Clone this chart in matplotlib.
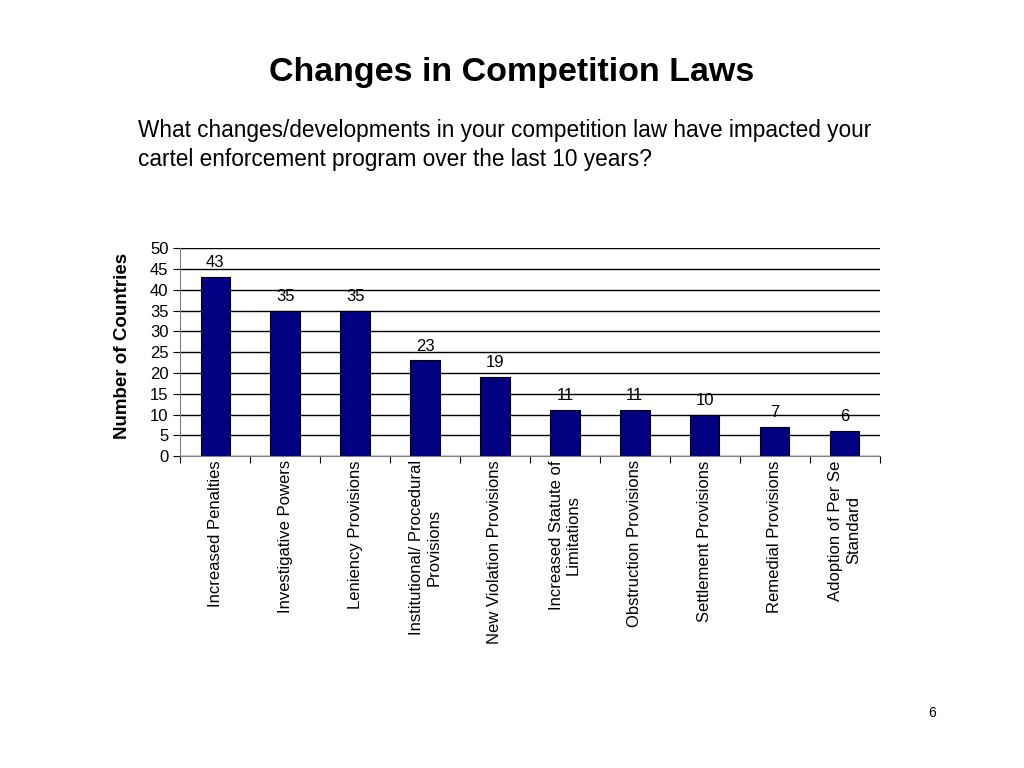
import matplotlib.pyplot as plt
import numpy as np

plt.rcParams['font.family'] = ['Liberation Sans', 'DejaVu Sans']

categories = ['Increased Penalties', 'Investigative Powers', 'Leniency Provisions',
              'Institutional/ Procedural\nProvisions', 'New Violation Provisions',
              'Increased Statute of\nLimitations', 'Obstruction Provisions',
              'Settlement Provisions', 'Remedial Provisions', 'Adoption of Per Se\nStandard']
counts = [43, 35, 35, 23, 19, 11, 11, 10, 7, 6]
y_ticks = list(range(0, 51, 5))

fig = plt.figure(figsize=(10.24, 7.68), dpi=100)
ax = fig.add_axes([0.176, 0.406, 0.683, 0.271])

x = np.arange(len(categories))
ax.set_axisbelow(True)
ax.yaxis.grid(True, color='black', linewidth=1)
bars = ax.bar(x, counts, width=0.42, color='#000080', edgecolor='black', linewidth=0.8)

for xi, v in zip(x, counts):
    ax.annotate(str(v), (xi, v), xytext=(0, 5), textcoords='offset points',
                ha='center', va='bottom', fontsize=12)

ax.set_xlim(-0.5, len(categories) - 0.5)
ax.set_ylim(0, 50)
ax.set_yticks(y_ticks)
ax.tick_params(axis='y', labelsize=12, length=5, direction='out')

# category labels between boundary ticks
ax.set_xticks(np.arange(len(categories) + 1) - 0.5)
ax.set_xticklabels([])
ax.tick_params(axis='x', length=5, direction='out')
ax.set_xticks(x, minor=True)
ax.set_xticklabels(categories, minor=True, rotation=90, fontsize=12, ha='center', va='top')
ax.tick_params(axis='x', which='minor', length=0, pad=3)

ax.spines['top'].set_visible(False)
ax.spines['right'].set_visible(False)
ax.spines['left'].set_color('#808080')
ax.spines['bottom'].set_color('#808080')

ax.set_ylabel('Number of Countries', fontsize=13.5, fontweight='bold')
ax.yaxis.set_label_coords(-0.071, 0.53)

fig.text(0.5, 0.906, 'Changes in Competition Laws', ha='center', va='center',
         fontsize=24.5, fontweight='bold')
fig.text(0.135, 0.811, 'What changes/developments in your competition law have impacted your\n'
         'cartel enforcement program over the last 10 years?', ha='left', va='center',
         fontsize=16.3, linespacing=1.3)
fig.text(0.91, 0.071, '6', ha='center', va='center', fontsize=10)

fig.savefig('out.png', dpi=100)
